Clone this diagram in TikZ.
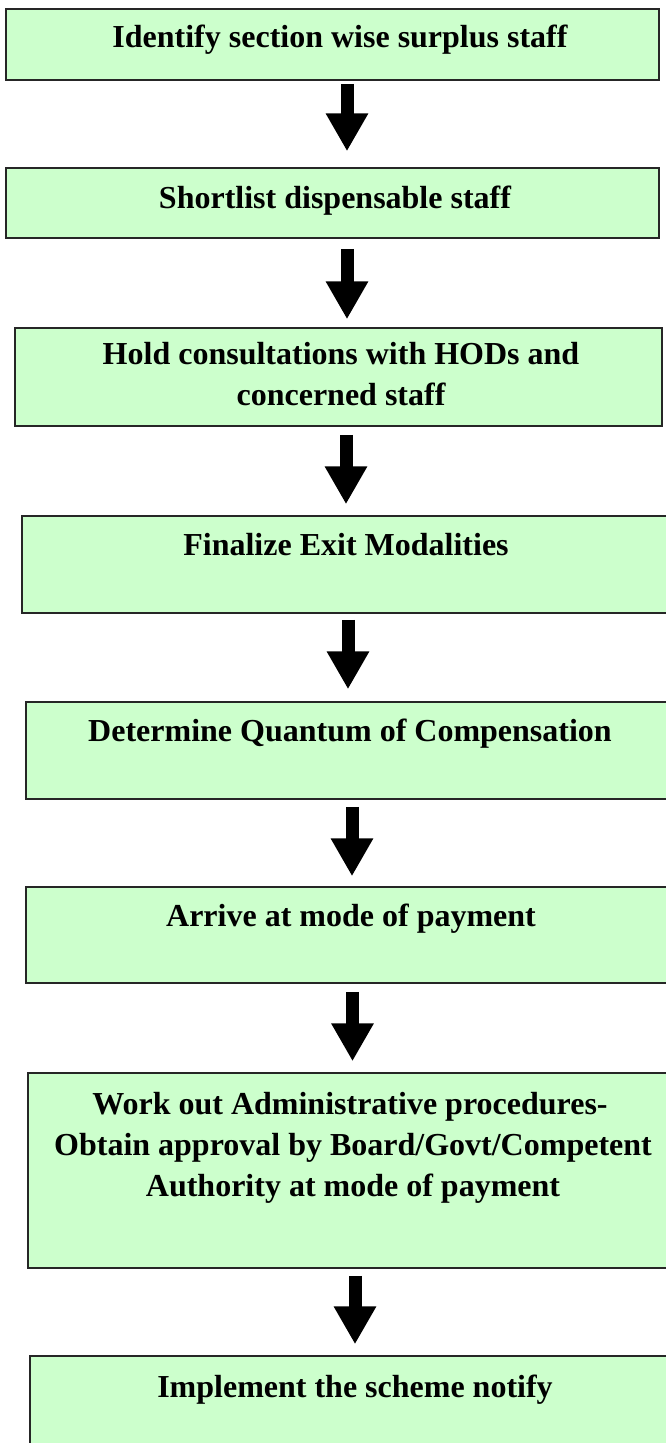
\documentclass[tikz,border=0pt]{standalone}
\usepackage{fontspec}
\setmainfont{Liberation Serif}
\usetikzlibrary{arrows.meta}
\definecolor{boxgreen}{HTML}{CCFFCC}
\tikzset{
	stepbox/.style={draw=black!85, line width=1.5pt, fill=boxgreen, inner sep=0pt},
	steptext/.style={inner sep=0pt, align=center, font=\fontsize{32}{41}\selectfont\bfseries},
	flowarrow/.style={line width=13pt, -{Triangle[width=40pt, length=38pt]}}
}

\begin{document}
\begin{tikzpicture}[x=1pt, y=-1pt]
		%%%%% START %%%%%
		\clip (0, 0) rectangle (666, 1443);
		
		\node[stepbox, minimum width=653pt, minimum height=71pt] (identify) at (332.5, 44.5) {};
		\node[steptext, anchor=base] (identifytext) at (340, 47) {Identify section wise surplus staff};
		
		\node[stepbox, minimum width=653pt, minimum height=70pt] (shortlist) at (332.5, 203) {};
		\node[steptext, anchor=base] (shortlisttext) at (335, 208) {Shortlist dispensable staff};
		
		\node[stepbox, minimum width=647pt, minimum height=98pt] (consult) at (338.5, 377) {};
		\node[steptext, anchor=base] (consulttext1) at (341, 364) {Hold consultations with HODs and};
		\node[steptext, anchor=base] (consulttext2) at (341, 405) {concerned staff};
		
		\node[stepbox, minimum width=650pt, minimum height=97pt] (exit) at (347, 564.5) {};
		\node[steptext, anchor=base] (exittext) at (346, 555) {Finalize Exit Modalities};
		
		\node[stepbox, minimum width=650pt, minimum height=97pt] (quantum) at (351, 750.5) {};
		\node[steptext, anchor=base] (quantumtext) at (350, 741) {Determine Quantum of Compensation};
		
		\node[stepbox, minimum width=650pt, minimum height=96pt] (payment) at (351, 935) {};
		\node[steptext, anchor=base] (paymenttext) at (351, 926) {Arrive at mode of payment};
		
		\node[stepbox, minimum width=650pt, minimum height=195pt] (approval) at (353, 1170.5) {};
		\node[steptext, anchor=base] (approvaltext1) at (350, 1114) {Work out Administrative procedures-};
		\node[steptext, anchor=base] (approvaltext2) at (353, 1155) {Obtain approval by Board/Govt/Competent};
		\node[steptext, anchor=base] (approvaltext3) at (353, 1196) {Authority at mode of payment};
		
		\node[stepbox, minimum width=650pt, minimum height=110pt] (implement) at (355, 1411) {};
		\node[steptext, anchor=base] (implementtext) at (355, 1397) {Implement the scheme notify};
		
		% arrows between the steps
		\draw[flowarrow, shorten <=3pt, shorten >=16pt] ([xshift=14.5pt]identify.south) -- ([xshift=14.5pt]shortlist.north);
		\draw[flowarrow, shorten <=10pt, shorten >=8pt] ([xshift=14.5pt]shortlist.south) -- ([xshift=8.5pt]consult.north);
		\draw[flowarrow, shorten <=8pt, shorten >=11pt] ([xshift=7.5pt]consult.south) -- ([xshift=-1pt]exit.north);
		\draw[flowarrow, shorten <=6pt, shorten >=12pt] ([xshift=1pt]exit.south) -- ([xshift=-3pt]quantum.north);
		\draw[flowarrow, shorten <=7pt, shorten >=10pt] ([xshift=1pt]quantum.south) -- ([xshift=1pt]payment.north);
		\draw[flowarrow, shorten <=8pt, shorten >=11pt] ([xshift=1.5pt]payment.south) -- ([xshift=-0.5pt]approval.north);
		\draw[flowarrow, shorten <=7pt, shorten >=11pt] ([xshift=2pt]approval.south) -- (implement.north);
		%%%%% END %%%%%
	\end{tikzpicture}
\end{document}
